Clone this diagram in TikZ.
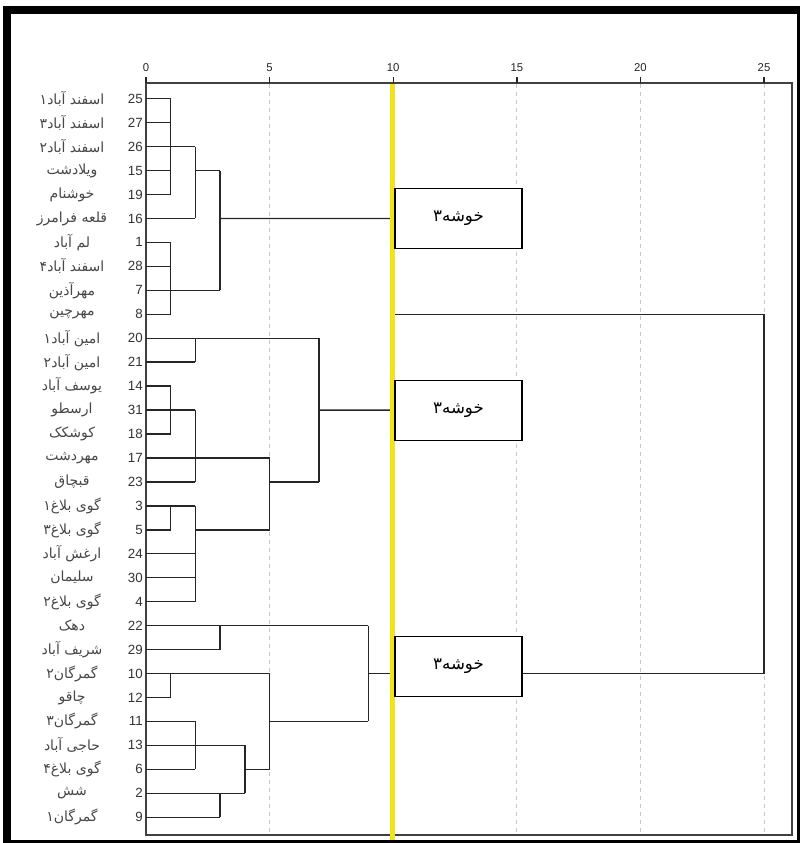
\documentclass[tikz,border=0pt]{standalone}
\usepackage{fontspec}
\setmainfont{Liberation Sans}
\newfontfamily\fa[Script=Arabic]{DejaVu Sans}
\TeXXeTstate=1
\definecolor{ylw}{RGB}{240,228,24}
\tikzset{
  dl/.style={line width=1.05pt, draw=black!85},
  gridl/.style={draw=black!22, dash pattern=on 3pt off 3pt, line width=0.6pt},
  clbox/.style={draw, line width=0.9pt, fill=white, minimum width=95.25pt, minimum height=45pt, inner sep=0pt, font=\fa\fontsize{12.5}{14}\selectfont},
  numlbl/.style={anchor=east, inner sep=0pt, text=black!80, font=\fontsize{10}{12}\selectfont},
  namelbl/.style={inner sep=0pt, text=black!72, font=\fa\fontsize{10.5}{12}\selectfont},
  axlbl/.style={inner sep=0pt, text=black!85, font=\fontsize{8.5}{10}\selectfont}
}
\begin{document}
\begin{tikzpicture}[x=0.75pt,y=-0.75pt]
\useasboundingbox (0,0) rectangle (800,843);
% outer frame
\fill[black] (3,6) rectangle (800,843);
\fill[white] (11,14) rectangle (797,840);
% grid
\foreach \u in {5,15,20,25}
  \draw[gridl] ({146+24.72*\u},84) -- ({146+24.72*\u},834);
% plot box
\draw[line width=0.8pt, draw=black!75] (146,83) -- (792,83) -- (792,835) -- (146,835) -- cycle;
% axis ticks and labels
\foreach \u in {0,5,10,15,20,25} {
  \draw[dl] ({146+24.72*\u},77) -- ({146+24.72*\u},83);
  \node[axlbl] (ax\u) at ({146+24.72*\u},68) {\u};
}
% labels
\foreach \i/\n/\t in {0/25/اسفند آباد۱,1/27/اسفند آباد۳,2/26/اسفند آباد۲,3/15/ویلادشت,4/19/خوشنام,5/16/قلعه فرامرز,6/1/لم آباد,7/28/اسفند آباد۴,8/7/مهرآذین,9/8/مهرچین,10/20/امین آباد۱,11/21/امین آباد۲,12/14/یوسف آباد,13/31/ارسطو,14/18/کوشکک,15/17/مهردشت,16/23/قبچاق,17/3/گوی بلاغ۱,18/5/گوی بلاغ۳,19/24/ارغش آباد,20/30/سلیمان,21/4/گوی بلاغ۲,22/22/دهک,23/29/شریف آباد,24/10/گمرگان۲,25/12/چاقو,26/11/گمرگان۳,27/13/حاجی آباد,28/6/گوی بلاغ۴,29/2/شش,30/9/گمرگان۱} {
  \node[numlbl] (num\n) at (143,{98.7+23.95*\i}) {\n};
  \node[namelbl] (nm\n) at (72,{98.7+23.95*\i}) {\beginR\t\endR};
}
% cluster boxes
\node[clbox] (b1) at (458.5,218.5) {\beginR خوشه۳\endR};
\node[clbox] (b2) at (458.5,410.1) {\beginR خوشه۳\endR};
\node[clbox] (b3) at (458.5,666.5) {\beginR خوشه۳\endR};
% dendrogram
\begin{scope}[shift={(146,98.7)}, x=18.54pt, y=-17.9625pt]
  % cluster A
  \draw[dl] (0,0)--(1,0) (0,1)--(1,1) (0,2)--(2,2) (0,3)--(1,3) (0,4)--(1,4) (1,0)--(1,4);
  \draw[dl] (0,5)--(2,5) (2,2)--(2,5) (2,3)--(3,3);
  \draw[dl] (0,6)--(1,6) (0,7)--(1,7) (0,8)--(3,8) (0,9)--(1,9) (1,6)--(1,9);
  \draw[dl] (3,3)--(3,8);
  \draw[dl] (3,5) -- (b1.west);
  % cluster B
  \draw[dl] (0,10)--(7,10) (0,11)--(2,11) (2,10)--(2,11);
  \draw[dl] (0,12)--(1,12) (0,13)--(2,13) (0,14)--(1,14) (1,12)--(1,14);
  \draw[dl] (0,15)--(5,15) (0,16)--(2,16) (2,13)--(2,16);
  \draw[dl] (0,17)--(2,17) (0,18)--(1,18) (1,17)--(1,18) (2,18)--(5,18);
  \draw[dl] (0,19)--(2,19) (0,20)--(2,20) (0,21)--(2,21) (2,17)--(2,21);
  \draw[dl] (5,15)--(5,18) (5,16)--(7,16) (7,10)--(7,16);
  \draw[dl] (7,13) -- (b2.west);
  % cluster C
  \draw[dl] (0,22)--(9,22) (0,23)--(3,23) (3,22)--(3,23);
  \draw[dl] (0,24)--(5,24) (0,25)--(1,25) (1,24)--(1,25);
  \draw[dl] (0,26)--(2,26) (0,27)--(4,27) (0,28)--(2,28) (2,26)--(2,28);
  \draw[dl] (0,29)--(4,29) (0,30)--(3,30) (3,29)--(3,30) (4,27)--(4,29);
  \draw[dl] (4,28)--(5,28) (5,24)--(5,28) (5,26)--(9,26) (9,22)--(9,26);
  \draw[dl] (9,24)--(10,24);
  % top level
  \coordinate (t9) at (10,9);
  \coordinate (r9) at (25,9);
  \coordinate (r24) at (25,24);
  \draw[dl] (t9) -- (r9) -- (r24) -- (b3.east |- r24);
\end{scope}
% yellow cut line
\draw[draw=ylw, line width=3.75pt] (392.5,84) -- (392.5,840);
\node[clbox] at (b1) {\beginR خوشه۳\endR};
\node[clbox] at (b2) {\beginR خوشه۳\endR};
\node[clbox] at (b3) {\beginR خوشه۳\endR};
\end{tikzpicture}
\end{document}
